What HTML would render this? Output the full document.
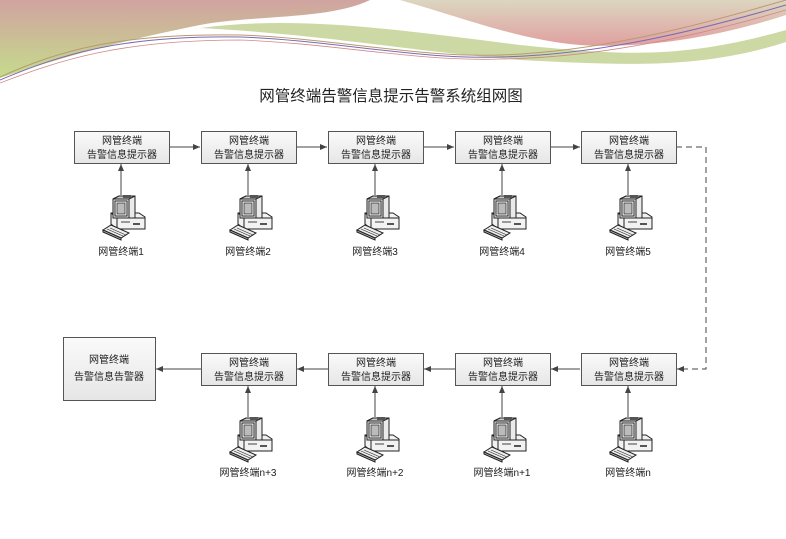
<!DOCTYPE html>
<html><head><meta charset="utf-8"><style>
body{margin:0;background:#fff;}
svg{display:block;}
text{font-family:"Liberation Sans","Noto Sans CJK SC",sans-serif;fill:#222;}
</style></head><body>
<svg width="786" height="539" viewBox="0 0 786 539" xmlns="http://www.w3.org/2000/svg">
<defs>
<linearGradient id="g1" x1="0" y1="0" x2="0" y2="1">
<stop offset="0" stop-color="#d0a3a0"/><stop offset="1" stop-color="#c5dc8c"/></linearGradient>
<linearGradient id="g2" x1="0" y1="0" x2="0" y2="1">
<stop offset="0" stop-color="#dcd6c0"/><stop offset="1" stop-color="#e0a0a0"/></linearGradient>
<linearGradient id="bx" x1="0" y1="0" x2="0" y2="1">
<stop offset="0" stop-color="#fafafa"/><stop offset="1" stop-color="#e6e6e6"/></linearGradient>
<marker id="ar" markerWidth="8" markerHeight="8" refX="7" refY="4" orient="auto" markerUnits="userSpaceOnUse">
<path d="M0,1 L7,4 L0,7 z" fill="#444"/></marker>
<g id="pc" stroke="#222" stroke-width="1">
<!-- base unit -->
<polygon points="-10,17 18,17 24,21 24,33 -4,33 -10,28" fill="#f2f2f2"/>
<line x1="-4" y1="33" x2="-4" y2="22" />
<line x1="-10" y1="17" x2="-4" y2="22"/>
<line x1="-4" y1="22" x2="24" y2="22"/>
<rect x="0" y="25" width="9" height="2" fill="#999" stroke="none"/>
<rect x="12" y="27" width="7" height="2" fill="#555" stroke="none"/>
<!-- monitor -->
<polygon points="-8,3 -2,0 14,0 14,22 -8,22" fill="#eaeaea"/>
<polygon points="-2,0 14,0 8,3 -8,3" fill="#ccc"/>
<rect x="2" y="-1" width="8" height="3" fill="#555" stroke="none"/>
<rect x="-6" y="5" width="12" height="15" fill="#fff"/>
<rect x="-4" y="7" width="8" height="11" fill="#bbb" stroke="#333" stroke-width="0.8"/>
<line x1="8" y1="3" x2="8" y2="22"/>
<!-- keyboard -->
<polygon points="-18,34 -10,29 8,37 0,42" fill="#eee"/>
<polygon points="-18,34 0,42 0,44 -18,36" fill="#bbb"/>
<line x1="-14" y1="33" x2="2" y2="40" stroke-width="0.6"/>
<line x1="-11" y1="32" x2="5" y2="39" stroke-width="0.6"/>
</g>
</defs>
<!-- header waves -->
<path d="M0,0 H370 C330,20 250,15 200,25 C100,45 40,65 0,78 Z" fill="url(#g1)"/>
<path d="M200,28 C300,15 400,30 520,45 C620,55 680,60 786,30 V42 C700,70 620,65 520,60 C400,50 330,35 200,28 Z" fill="#c6d59a" opacity="0.9"/>
<path d="M400,0 H786 V15 C740,30 660,50 580,45 C520,40 470,20 400,0 Z" fill="url(#g2)"/>
<path d="M0,80 C60,55 120,35 240,37 C330,40 420,60 500,57 C600,55 700,30 786,5" fill="none" stroke="#7a6bb0" stroke-width="1"/>
<path d="M0,77 C60,50 120,33 240,35 C330,38 420,58 500,55 C600,52 700,25 786,0" fill="none" stroke="#b89a70" stroke-width="1"/>
<path d="M0,83 C60,60 120,40 240,40 C330,43 420,62 500,59 C600,58 700,35 786,10" fill="none" stroke="#d08888" stroke-width="0.8"/>
<text x="391" y="101" font-size="15.5" text-anchor="middle">网管终端告警信息提示告警系统组网图</text>

<g stroke="#444" stroke-width="1" fill="none">
<line x1="169" y1="147" x2="200" y2="147" marker-end="url(#ar)"/>
<line x1="296" y1="147" x2="327" y2="147" marker-end="url(#ar)"/>
<line x1="423" y1="147" x2="454" y2="147" marker-end="url(#ar)"/>
<line x1="550" y1="147" x2="580" y2="147" marker-end="url(#ar)"/>
<line x1="580" y1="369" x2="551" y2="369" marker-end="url(#ar)"/>
<line x1="455" y1="369" x2="424" y2="369" marker-end="url(#ar)"/>
<line x1="328" y1="369" x2="297" y2="369" marker-end="url(#ar)"/>
<line x1="201" y1="369" x2="156" y2="369" marker-end="url(#ar)"/>
<polyline points="676,147 706,147 706,369 677,369" stroke-dasharray="6,4" marker-end="url(#ar)"/>
<line x1="121" y1="195" x2="121" y2="164" marker-end="url(#ar)"/>
<line x1="248" y1="195" x2="248" y2="164" marker-end="url(#ar)"/>
<line x1="375" y1="195" x2="375" y2="164" marker-end="url(#ar)"/>
<line x1="502" y1="195" x2="502" y2="164" marker-end="url(#ar)"/>
<line x1="628" y1="195" x2="628" y2="164" marker-end="url(#ar)"/>
<line x1="248" y1="417" x2="248" y2="386" marker-end="url(#ar)"/>
<line x1="375" y1="417" x2="375" y2="386" marker-end="url(#ar)"/>
<line x1="502" y1="417" x2="502" y2="386" marker-end="url(#ar)"/>
<line x1="628" y1="417" x2="628" y2="386" marker-end="url(#ar)"/>
</g>

<g stroke="#555" stroke-width="1" fill="url(#bx)">
<rect x="74.5" y="131.5" width="95" height="32"/>
<rect x="201.5" y="131.5" width="95" height="32"/>
<rect x="328.5" y="131.5" width="95" height="32"/>
<rect x="455.5" y="131.5" width="95" height="32"/>
<rect x="581.5" y="131.5" width="95" height="32"/>
<rect x="201.5" y="353.5" width="95" height="32"/>
<rect x="328.5" y="353.5" width="95" height="32"/>
<rect x="455.5" y="353.5" width="95" height="32"/>
<rect x="581.5" y="353.5" width="95" height="32"/>
<rect x="63.5" y="337.5" width="92" height="63"/>
</g>
<g font-size="10" text-anchor="middle">
<text x="122" y="144">网管终端</text><text x="122" y="158">告警信息提示器</text>
<text x="249" y="144">网管终端</text><text x="249" y="158">告警信息提示器</text>
<text x="376" y="144">网管终端</text><text x="376" y="158">告警信息提示器</text>
<text x="503" y="144">网管终端</text><text x="503" y="158">告警信息提示器</text>
<text x="629" y="144">网管终端</text><text x="629" y="158">告警信息提示器</text>
<text x="249" y="366">网管终端</text><text x="249" y="380">告警信息提示器</text>
<text x="376" y="366">网管终端</text><text x="376" y="380">告警信息提示器</text>
<text x="503" y="366">网管终端</text><text x="503" y="380">告警信息提示器</text>
<text x="629" y="366">网管终端</text><text x="629" y="380">告警信息提示器</text>
<text x="109" y="363">网管终端</text><text x="109" y="380">告警信息告警器</text>
<text x="121" y="255">网管终端1</text>
<text x="248" y="255">网管终端2</text>
<text x="375" y="255">网管终端3</text>
<text x="502" y="255">网管终端4</text>
<text x="628" y="255">网管终端5</text>
<text x="248" y="476">网管终端n+3</text>
<text x="375" y="476">网管终端n+2</text>
<text x="502" y="476">网管终端n+1</text>
<text x="628" y="476">网管终端n</text>
</g>
<use href="#pc" x="121" y="196"/>
<use href="#pc" x="248" y="196"/>
<use href="#pc" x="375" y="196"/>
<use href="#pc" x="502" y="196"/>
<use href="#pc" x="628" y="196"/>
<use href="#pc" x="248" y="418"/>
<use href="#pc" x="375" y="418"/>
<use href="#pc" x="502" y="418"/>
<use href="#pc" x="628" y="418"/>
</svg>
</body></html>
